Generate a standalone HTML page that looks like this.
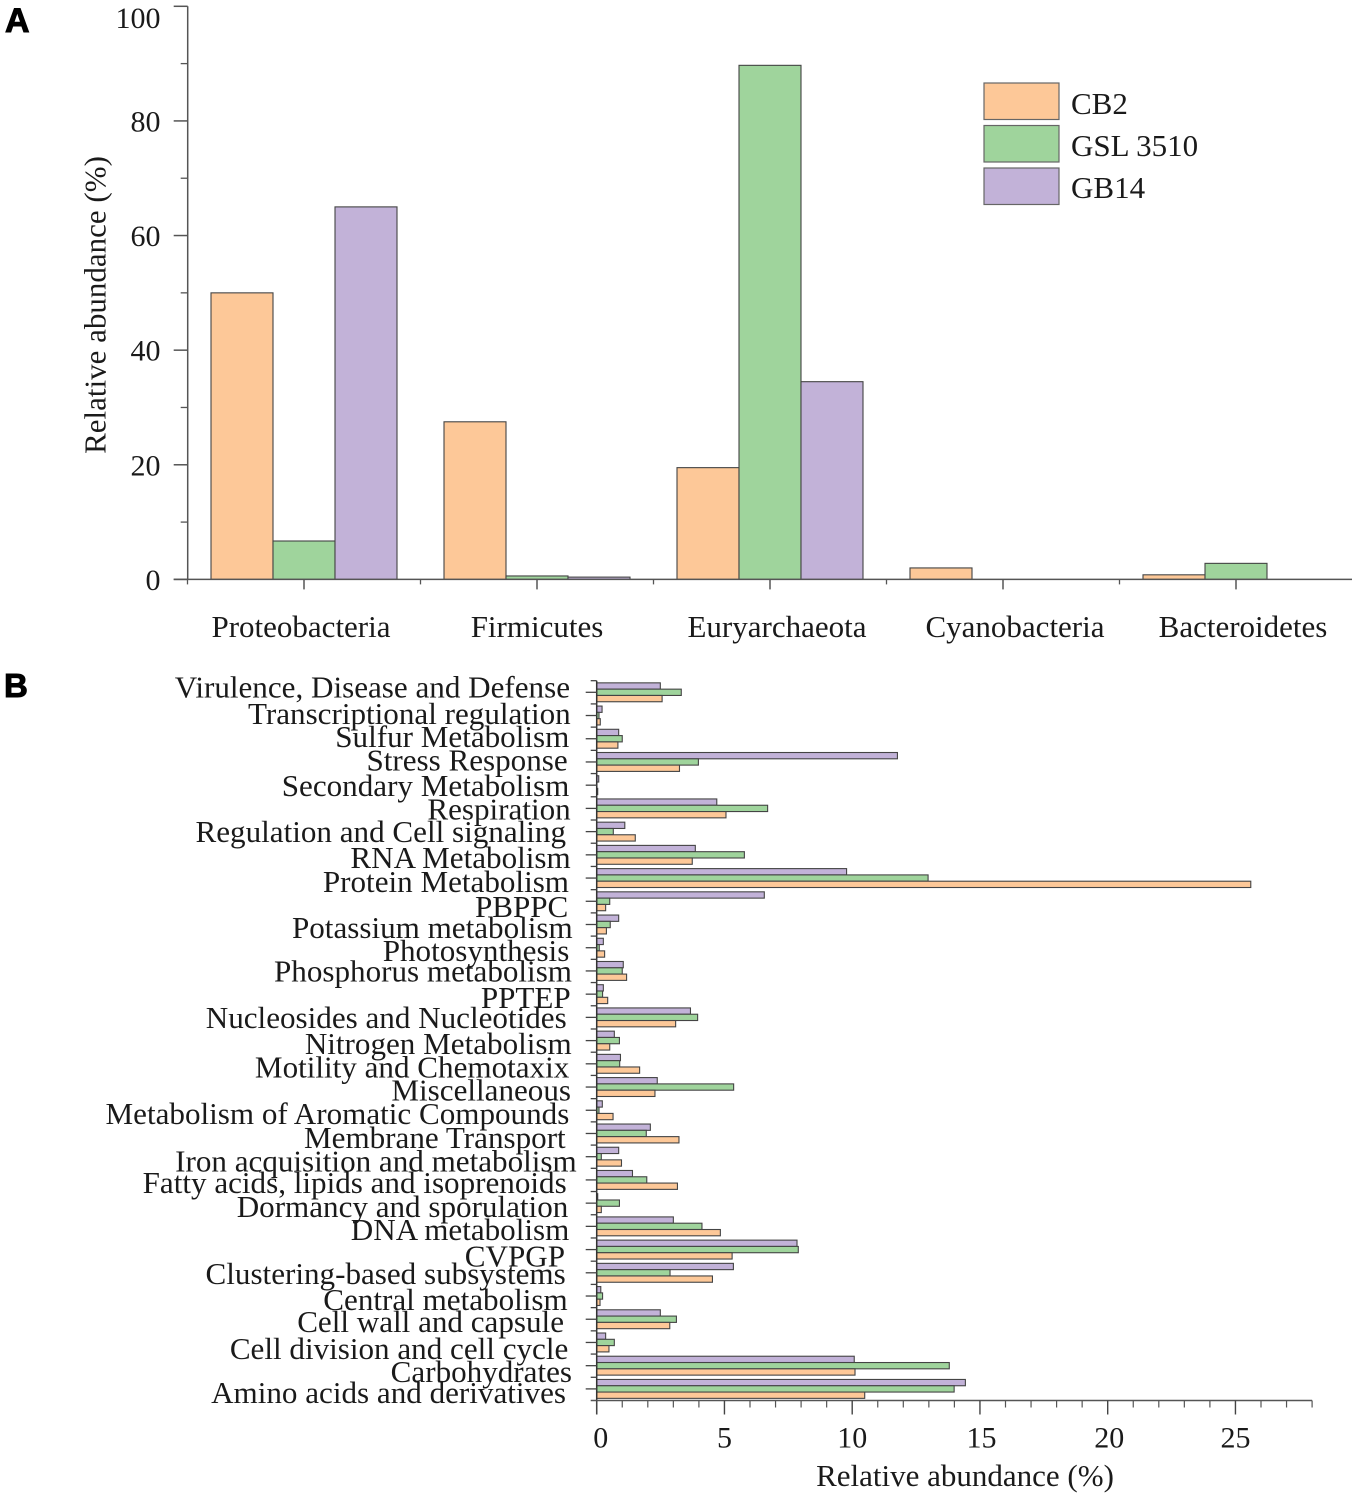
<!DOCTYPE html>
<html lang="en">
<head>
<meta charset="utf-8">
<title>Relative abundance charts</title>
<style>
html,body{margin:0;padding:0;background:#fff;}
#figure{display:block;width:1355px;height:1496px;}
text{font-family:"Liberation Serif",serif;fill:#1a1a1a;}
.panel{font-family:"Liberation Sans",sans-serif;font-weight:700;fill:#000;stroke:#000;stroke-width:1px;}
</style>
</head>
<body>
<svg id="figure" xmlns="http://www.w3.org/2000/svg" width="1355" height="1496" viewBox="0 0 1355 1496">
  <rect x="0" y="0" width="1355" height="1496" fill="#ffffff"/>
  <text class="panel" x="5" y="32" font-size="34">A</text>
  <text class="panel" x="4" y="697" font-size="33">B</text>
  <g id="chartA"></g>
  <g id="chartB"></g>
  <g>
    <g>
      <rect x="984" y="83" width="75" height="36.5" fill="#fdc898" stroke="#666" stroke-width="1.2"/>
      <text x="1071" y="114" font-size="31">CB2</text>
    </g>
    <g>
      <rect x="984" y="125.5" width="75" height="36.5" fill="#9fd49c" stroke="#666" stroke-width="1.2"/>
      <text x="1071" y="156" font-size="31">GSL 3510</text>
    </g>
    <g>
      <rect x="984" y="168" width="75" height="36.5" fill="#c2b2d8" stroke="#666" stroke-width="1.2"/>
      <text x="1071" y="198" font-size="31">GB14</text>
    </g>
  </g>
</svg>
<script>
// Panel A data
var phylaCategories = ["Proteobacteria", "Firmicutes", "Euryarchaeota", "Cyanobacteria", "Bacteroidetes"];
var phylaCB2 = [50, 27.5, 19.5, 2, 0.8];
var phylaGSL3510 = [6.7, 0.6, 89.7, 0, 2.8];
var phylaGB14 = [65, 0.4, 34.5, 0, 0];
var phylaYTicks = [0, 20, 40, 60, 80, 100];

// Panel B data (listed top to bottom)
var functionCategories = ["Virulence, Disease and Defense", "Transcriptional regulation", "Sulfur Metabolism", "Stress Response", "Secondary Metabolism", "Respiration", "Regulation and Cell signaling", "RNA Metabolism", "Protein Metabolism", "PBPPC", "Potassium metabolism", "Photosynthesis", "Phosphorus metabolism", "PPTEP", "Nucleosides and Nucleotides", "Nitrogen Metabolism", "Motility and Chemotaxix", "Miscellaneous", "Metabolism of Aromatic Compounds", "Membrane Transport", "Iron acquisition and metabolism", "Fatty acids, lipids and isoprenoids", "Dormancy and sporulation", "DNA metabolism", "CVPGP", "Clustering-based subsystems", "Central metabolism", "Cell wall and capsule", "Cell division and cell cycle", "Carbohydrates", "Amino acids and derivatives"];
var functionGB14 = [2.49, 0.21, 0.86, 11.77, 0.08, 4.7, 1.1, 3.86, 9.78, 6.56, 0.86, 0.26, 1.04, 0.26, 3.67, 0.69, 0.93, 2.37, 0.22, 2.1, 0.86, 1.4, 0.04, 3.0, 7.84, 5.35, 0.16, 2.49, 0.35, 10.08, 14.43];
var functionGSL3510 = [3.31, 0.09, 1.0, 3.98, 0.01, 6.69, 0.65, 5.78, 12.97, 0.51, 0.53, 0.1, 1.0, 0.23, 3.95, 0.89, 0.9, 5.36, 0.09, 1.94, 0.18, 1.96, 0.89, 4.12, 7.89, 2.87, 0.23, 3.12, 0.69, 13.8, 13.99];
var functionCB2 = [2.56, 0.14, 0.83, 3.24, 0.04, 5.06, 1.51, 3.74, 25.6, 0.35, 0.38, 0.31, 1.17, 0.43, 3.09, 0.51, 1.68, 2.28, 0.64, 3.22, 0.97, 3.16, 0.18, 4.84, 5.3, 4.53, 0.13, 2.86, 0.48, 10.11, 10.49];
var functionXTicks = [0, 5, 10, 15, 20, 25];

// Hand-placed label offsets seen in the original figure (layout only, not data)
var phylaLabelNudge = [-3, 0, 7, 12, 7];
var functionLabelNudgeX = [0, 0.7, -0.7, -2.3, -0.7, 0.7, -4, 0.7, -1, -1.7, 2.7, -0.7, 2, 0.7, -3.3, 1.7, -0.7, 1, -0.7, -4.3, 6.7, -3.3, -1.7, -0.7, -5, -4.3, -2.3, -6, -1.7, 2, -4];
var functionLabelNudgeY = [5.4, 8.5, 8.3, 8.7, 10.8, 11.3, 10.4, 13.2, 13.7, 15.7, 13.5, 13.3, 10.8, 13.9, 10.6, 13.4, 13.9, 13.7, 13.8, 14.5, 15, 13.1, 13.9, 13.7, 17.1, 11.2, 14, 12.8, 16.6, 16.3, 14.1];

var SVGNS = "http://www.w3.org/2000/svg";
var AXIS_COLOR = "#555555";
var BAR_STROKE = "#444444";
var COLOR_CB2 = "#fdc898";
var COLOR_GSL = "#9fd49c";
var COLOR_GB14 = "#c2b2d8";

function make(tag, attrs, parent, content) {
  var el = document.createElementNS(SVGNS, tag);
  for (var k in attrs) { el.setAttribute(k, attrs[k]); }
  if (content !== undefined) { el.textContent = content; }
  parent.appendChild(el);
  return el;
}
function slug(s) {
  return String(s).toLowerCase().replace(/[^a-z0-9]+/g, "-").replace(/^-|-$/g, "");
}

// ---------- Panel A ----------
(function () {
  var root = document.getElementById("chartA");
  var x0 = 187.7, xEnd = 1352, catStep = 233, catFirst = 304, barW = 62;
  var y0 = 579.4, yScale = 5.731;
  function yA(v) { return y0 - v * yScale; }
  function xA(i) { return catFirst + i * catStep; }

  var seriesList = [
    { name: "cb2", values: phylaCB2, fill: COLOR_CB2 },
    { name: "gsl-3510", values: phylaGSL3510, fill: COLOR_GSL },
    { name: "gb14", values: phylaGB14, fill: COLOR_GB14 }
  ];
  seriesList.forEach(function (s, si) {
    s.values.forEach(function (v, i) {
      var r = make("rect", { x: xA(i) + (si - 1.5) * barW, y: yA(v), width: barW, height: Math.max(0, y0 - yA(v)), fill: s.fill, stroke: BAR_STROKE, "stroke-width": 1.1 }, root);
      
      
    });
  });

  var yAxis = make("line", { x1: x0, y1: yA(100), x2: x0, y2: y0, stroke: AXIS_COLOR, "stroke-width": 1.5 }, root);
  
  
  var xAxis = make("line", { x1: x0 - 14, y1: y0, x2: xEnd, y2: y0, stroke: AXIS_COLOR, "stroke-width": 1.5 }, root);
  
  

  phylaYTicks.forEach(function (t, i) {
    var tk = make("line", { x1: x0 - 14, y1: yA(t), x2: x0, y2: yA(t), stroke: AXIS_COLOR, "stroke-width": 1.5 }, root);
    
    
    var lift = t === 100 ? 11 : 0;
    var lb = make("text", { x: 160.5, y: yA(t) + 10.5 + lift, "text-anchor": "end", "font-size": 30 }, root, String(t));
    
    
    if (i < phylaYTicks.length - 1) {
      var mid = (t + phylaYTicks[i + 1]) / 2;
      var mn = make("line", { x1: x0 - 7, y1: yA(mid), x2: x0, y2: yA(mid), stroke: AXIS_COLOR, "stroke-width": 1.3 }, root);
      
      
    }
  });

  phylaCategories.forEach(function (c, i) {
    var edge = make("line", { x1: xA(i) - catStep / 2, y1: y0, x2: xA(i) - catStep / 2, y2: y0 + 5, stroke: AXIS_COLOR, "stroke-width": 1.3 }, root);
    
    
    var tk = make("line", { x1: xA(i), y1: y0, x2: xA(i), y2: y0 + 10, stroke: AXIS_COLOR, "stroke-width": 1.5 }, root);
    
    
    var lb = make("text", { x: xA(i) + phylaLabelNudge[i], y: 637, "text-anchor": "middle", "font-size": 31 }, root, c);
    
    
  });

  var title = make("text", { x: 0, y: 0, transform: "translate(105.5,305) rotate(-90)", "text-anchor": "middle", "font-size": 31 }, root, "Relative abundance (%)");
  
  
})();

// ---------- Panel B ----------
(function () {
  var root = document.getElementById("chartB");
  var x0 = 596.7, xScale = 25.55, xMax = 28;
  var yFirst = 692.3, yStep = 23.22, barH = 6.3, axisY = 1400.5;
  function xB(v) { return x0 + v * xScale; }
  function yB(i) { return yFirst + i * yStep; }

  var seriesList = [
    { name: "gb14", values: functionGB14, fill: COLOR_GB14 },
    { name: "gsl-3510", values: functionGSL3510, fill: COLOR_GSL },
    { name: "cb2", values: functionCB2, fill: COLOR_CB2 }
  ];
  seriesList.forEach(function (s, si) {
    s.values.forEach(function (v, i) {
      var r = make("rect", { x: x0, y: yB(i) + (si - 1.5) * barH, width: Math.max(0, xB(v) - x0), height: barH, fill: s.fill, stroke: BAR_STROKE, "stroke-width": 1.1 }, root);
      
      
    });
  });

  var yAxis = make("line", { x1: x0, y1: yB(0) - yStep / 2, x2: x0, y2: axisY + 14, stroke: "#333", "stroke-width": 1.5 }, root);
  
  
  var xAxis = make("line", { x1: x0 - 6, y1: axisY, x2: xB(xMax), y2: axisY, stroke: AXIS_COLOR, "stroke-width": 1.4 }, root);
  
  

  functionCategories.forEach(function (c, i) {
    var tk = make("line", { x1: x0 - 11, y1: yB(i), x2: x0, y2: yB(i), stroke: "#444", "stroke-width": 1.3 }, root);
    
    
    var mn = make("line", { x1: x0 - 6, y1: yB(i) - yStep / 2, x2: x0, y2: yB(i) - yStep / 2, stroke: "#444", "stroke-width": 1.3 }, root);
    
    
    var lb = make("text", { x: 570 + functionLabelNudgeX[i], y: yB(i) + functionLabelNudgeY[i], "text-anchor": "end", "font-size": 31.1 }, root, c);
    
    
  });

  for (var m = 1; m <= xMax; m++) {
    if (m % 5 === 0) { continue; }
    var minor = make("line", { x1: xB(m), y1: axisY, x2: xB(m), y2: axisY + 7, stroke: AXIS_COLOR, "stroke-width": 1.2 }, root);
    
    
  }
  functionXTicks.forEach(function (t) {
    var tk = make("line", { x1: xB(t), y1: axisY, x2: xB(t), y2: axisY + 14, stroke: "#444", "stroke-width": 1.4 }, root);
    
    
    var nudge = t === 0 ? 4 : (t === 15 || t === 20 ? 1.5 : 0);
    var lb = make("text", { x: xB(t) + nudge, y: 1447.5, "text-anchor": "middle", "font-size": 30 }, root, String(t));
    
    
  });

  var title = make("text", { x: 965, y: 1486, "text-anchor": "middle", "font-size": 31 }, root, "Relative abundance (%)");
  
  
})();
</script>
</body>
</html>
